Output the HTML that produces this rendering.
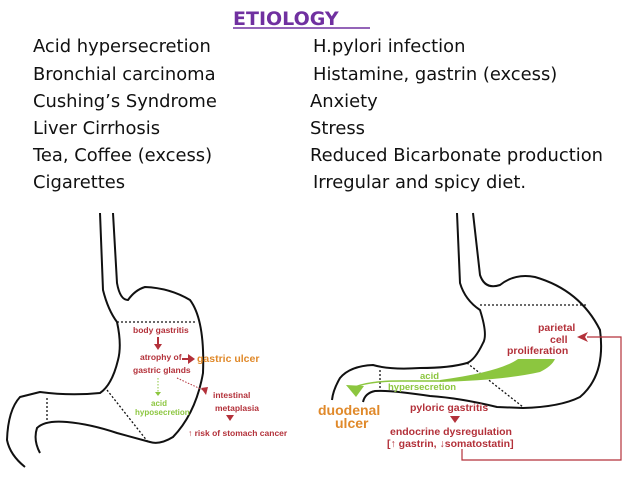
<!DOCTYPE html>
<html><head><style>
body{margin:0;background:#fff}
svg{display:block}
.t{font-family:"DejaVu Sans",Verdana,sans-serif;font-size:17.9px;fill:#111}
.r{font-family:"Liberation Sans",sans-serif;font-weight:bold;font-size:8.5px;fill:#b3313a}
.r2{font-family:"Liberation Sans",sans-serif;font-weight:bold;font-size:10.5px;fill:#b3313a}
.g{font-family:"Liberation Sans",sans-serif;font-weight:bold;font-size:8px;fill:#8cc63f}
.g2{font-family:"Liberation Sans",sans-serif;font-weight:bold;font-size:9.5px;fill:#8cc63f}
.o{font-family:"Liberation Sans",sans-serif;font-weight:bold;font-size:10.5px;fill:#e0892a}
.o2{font-family:"Liberation Sans",sans-serif;font-weight:bold;font-size:14px;fill:#e0892a}
</style></head><body>
<svg width="638" height="479" viewBox="0 0 638 479" xmlns="http://www.w3.org/2000/svg">
<text x="233" y="25" font-family="DejaVu Sans,Verdana,sans-serif" font-weight="bold" font-size="19" fill="#7030a0">ETIOLOGY</text>
<line x1="233" y1="28" x2="370" y2="28" stroke="#7030a0" stroke-width="1.5"/>
<g class="t">
<text x="33" y="52">Acid hypersecretion</text><text x="313" y="52">H.pylori infection</text>
<text x="33" y="80">Bronchial carcinoma</text><text x="313" y="80">Histamine, gastrin (excess)</text>
<text x="33" y="107">Cushing’s Syndrome</text><text x="310" y="107">Anxiety</text>
<text x="33" y="134">Liver Cirrhosis</text><text x="310" y="134">Stress</text>
<text x="33" y="161">Tea, Coffee (excess)</text><text x="310" y="161">Reduced Bicarbonate production</text>
<text x="33" y="188">Cigarettes</text><text x="313" y="188">Irregular and spicy diet.</text>
</g>
<g fill="none" stroke="#111" stroke-width="2" stroke-linejoin="round">
<path d="M113 213 L117 283 Q120 300 128 300 Q135 290 145 287 Q170 288 190 300 Q205 320 203 373 Q196 413 173 437 Q160 445 150 442 L117 433 Q90 424 67 422 Q45 420 37 428 Q33 440 40 453"/>
<path d="M100 213 L103 290 Q108 310 117 322 Q122 345 118 360 Q112 385 100 393 Q70 396 40 392 L20 397 Q8 410 7 440 Q10 455 25 467"/>
<path d="M457 213 L460 283 Q465 300 480 310 Q488 335 483 343 Q475 360 467 363 Q450 368 420 368 Q390 370 373 365 Q350 366 340 378 Q333 390 332 400"/>
<path d="M473 213 L480 275 Q485 290 500 285 Q515 273 535 277 Q580 290 600 330 Q606 375 580 397 Q560 407 523 408 L497 407 Q460 398 430 396 Q390 390 375 391 Q365 393 363 402"/>
</g>
<g stroke="#111" stroke-width="1.3" stroke-dasharray="2,2" fill="none">
<line x1="117" y1="322" x2="195" y2="322"/><line x1="107" y1="390" x2="148" y2="442"/><line x1="47" y1="398" x2="47" y2="422"/>
<line x1="480" y1="305" x2="587" y2="305"/><line x1="467" y1="363" x2="523" y2="407"/><line x1="380" y1="370" x2="380" y2="390"/>
</g>
<text class="r" x="133" y="333">body gastritis</text>
<path d="M158 337 L158 345" stroke="#b3313a" stroke-width="2"/><path d="M154 344 L162 344 L158 350Z" fill="#b3313a"/>
<text class="r" x="140" y="360">atrophy of</text>
<text class="r" x="133" y="373">gastric glands</text>
<path d="M182 359 L189 359" stroke="#b3313a" stroke-width="2"/><path d="M188 354 L195 359 L188 364Z" fill="#b3313a"/>
<text class="o" x="197" y="362">gastric ulcer</text>
<line x1="158" y1="378" x2="158" y2="393" stroke="#8cc63f" stroke-dasharray="1.5,1.5"/>
<path d="M155 392 L161 392 L158 396Z" fill="#8cc63f"/>
<text class="g" x="151" y="406">acid</text>
<text class="g" x="135" y="415">hyposecretion</text>
<line x1="177" y1="378" x2="203" y2="390" stroke="#b3313a" stroke-dasharray="1.5,1.5"/>
<path d="M201 388 L208 387 L206 395Z" fill="#b3313a"/>
<text class="r" x="213" y="398">intestinal</text>
<text class="r" x="215" y="411">metaplasia</text>
<path d="M226 415 L234 415 L230 421Z" fill="#b3313a"/>
<text class="r" x="188" y="436">↑ risk of stomach cancer</text>
<text class="r2" x="538" y="331">parietal</text>
<text class="r2" x="550" y="343">cell</text>
<text class="r2" x="507" y="354">proliferation</text>
<path d="M555 359 L518 359 Q500 372 440 380 L440 382 Q505 380 540 372 Q552 366 555 359Z" fill="#8cc63f"/>
<path d="M440 381 L400 381 Q370 381 355 387" stroke="#8cc63f" stroke-width="1.5" fill="none"/>
<path d="M346 385 L364 386 L356 397Z" fill="#8cc63f"/>
<text class="g2" x="420" y="379">acid</text>
<text class="g2" x="388" y="390">hypersecretion</text>
<text class="o2" x="318" y="415">duodenal</text>
<text class="o2" x="335" y="428">ulcer</text>
<text class="r2" x="410" y="411">pyloric gastritis</text>
<path d="M450 416 L460 416 L455 423Z" fill="#b3313a"/>
<text class="r2" x="390" y="435">endocrine dysregulation</text>
<text class="r2" x="387" y="447">[↑ gastrin, ↓somatostatin]</text>
<path d="M462 449 L462 460 L621 460 L621 337 L587 337" stroke="#b3313a" stroke-width="1.2" fill="none"/>
<path d="M577 337 L588 332 L585 337 L588 342Z" fill="#b3313a"/>
</svg>
</body></html>
